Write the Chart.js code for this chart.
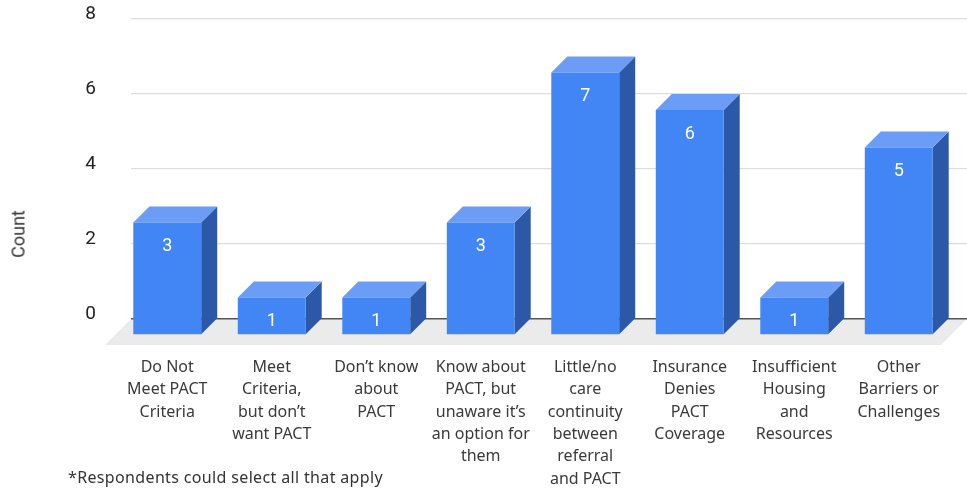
<!DOCTYPE html>
<html>
<head>
<meta charset="utf-8">
<script src="https://cdn.jsdelivr.net/npm/chart.js@4.4.1/dist/chart.umd.min.js"></script>
<style>
  html, body { margin: 0; padding: 0; background: #fff; }
  #wrap { position: relative; width: 967px; height: 491px; }
  #note {
    position: absolute; left: 68px; top: 466px;
    font: 16px "Noto Sans", sans-serif; letter-spacing: 0.35px; color: #333;
  }
  #ytitle {
    position: absolute; left: 18px; top: 234px;
    transform: translate(-50%, -50%) rotate(-90deg);
    font: 18px Roboto, sans-serif; color: #333; white-space: nowrap;
  }
</style>
</head>
<body>
<div id="wrap">
  <canvas id="barriers-chart" width="967" height="491"></canvas>
  <div id="ytitle">Count</div>
  <div id="note">*Respondents could select all that apply</div>
</div>
<script>
'use strict';

// Categories (multi-line labels) and counts
const categories = [
  ['Do Not', 'Meet PACT', 'Criteria'],
  ['Meet', 'Criteria,', 'but don\u2019t', 'want PACT'],
  ['Don\u2019t know', 'about', 'PACT'],
  ['Know about', 'PACT, but', 'unaware it\u2019s', 'an option for', 'them'],
  ['Little/no', 'care', 'continuity', 'between', 'referral', 'and PACT'],
  ['Insurance', 'Denies', 'PACT', 'Coverage'],
  ['Insufficient', 'Housing', 'and', 'Resources'],
  ['Other', 'Barriers or', 'Challenges']
];
const counts = [3, 1, 1, 3, 7, 6, 1, 5];
const yTicks = [0, 2, 4, 6, 8];

// depth of the fake 3D extrusion, in px
const DEPTH = 16;
const FRONT = '#4285F4';
const TOP = '#6B9DF6';
const SIDE = '#2C58A8';

// grey floor under the bars, drawn before the grid so the zero line sits on it
const floorPlugin = {
  id: 'floor',
  beforeDraw(chart) {
    const { ctx, chartArea } = chart;
    const y0 = chart.scales.y.getPixelForValue(0);
    const d = 26;
    ctx.save();
    ctx.fillStyle = '#ebebeb';
    ctx.beginPath();
    ctx.moveTo(chartArea.left, y0);
    ctx.lineTo(chartArea.right, y0);
    ctx.lineTo(chartArea.right - d, y0 + d);
    ctx.lineTo(chartArea.left - d, y0 + d);
    ctx.closePath();
    ctx.fill();
    ctx.restore();
  }
};

// draws each bar as a box: top, side and front faces, plus the value label
const boxPlugin = {
  id: 'box3d',
  afterDatasetsDraw(chart) {
    const { ctx } = chart;
    const meta = chart.getDatasetMeta(0);
    const data = chart.data.datasets[0].data;
    ctx.save();
    meta.data.forEach(function (bar, i) {
      const { x, y, base, width } = bar.getProps(['x', 'y', 'base', 'width'], true);
      const l = x - width / 2, r = x + width / 2;

      ctx.fillStyle = SIDE;
      ctx.beginPath();
      ctx.moveTo(r, y);
      ctx.lineTo(r, base);
      ctx.lineTo(r - DEPTH, base + DEPTH);
      ctx.lineTo(r - DEPTH, y + DEPTH);
      ctx.closePath();
      ctx.fill();

      ctx.fillStyle = TOP;
      ctx.beginPath();
      ctx.moveTo(l, y);
      ctx.lineTo(r, y);
      ctx.lineTo(r - DEPTH, y + DEPTH);
      ctx.lineTo(l - DEPTH, y + DEPTH);
      ctx.closePath();
      ctx.fill();

      ctx.fillStyle = FRONT;
      ctx.fillRect(l - DEPTH, y + DEPTH, width, base - y);

      ctx.fillStyle = '#ffffff';
      ctx.font = '18px Roboto';
      ctx.textAlign = 'center';
      ctx.textBaseline = 'middle';
      ctx.fillText(String(data[i]), x - DEPTH, y + DEPTH + 24);
    });
    ctx.restore();
  }
};

const ctx = document.getElementById('barriers-chart').getContext('2d');

new Chart(ctx, {
  type: 'bar',
  data: {
    labels: categories,
    datasets: [{
      label: 'Count',
      data: counts,
      backgroundColor: 'rgba(0,0,0,0)',
      borderWidth: 0,
      barPercentage: 0.65,
      categoryPercentage: 1
    }]
  },
  options: {
    responsive: false,
    animation: false,
    layout: { padding: { top: 19, right: 0, bottom: 0, left: 0 } },
    plugins: {
      legend: { display: false },
      tooltip: { enabled: false }
    },
    scales: {
      x: {
        grid: { display: false },
        border: { display: false },
        ticks: {
          autoSkip: false,
          maxRotation: 0,
          minRotation: 0,
          padding: 29,
          labelOffset: -DEPTH,
          color: '#3a3a3a',
          font: { family: 'Noto Sans', size: 16, lineHeight: 1.4 }
        },
        afterFit: function (scale) {
          scale.height = 172;
          scale.paddingLeft = 0;
          scale.paddingRight = 0;
        }
      },
      y: {
        min: 0,
        max: 8,
        afterBuildTicks: function (scale) {
          scale.ticks = yTicks.map(v => ({ value: v }));
        },
        grid: {
          drawTicks: false,
          color: c => (c.tick && c.tick.value === 0 ? '#555555' : '#dddddd'),
          lineWidth: c => (c.tick && c.tick.value === 0 ? 1.5 : 1.2)
        },
        border: { display: false },
        ticks: {
          padding: 35,
          labelOffset: -5,
          color: '#222',
          font: { family: 'Roboto', size: 19 }
        },
        afterFit: function (scale) {
          scale.width = 131;
          scale.paddingTop = 0;
          scale.paddingBottom = 0;
        }
      }
    }
  },
  plugins: [floorPlugin, boxPlugin]
});
</script>
</body>
</html>
